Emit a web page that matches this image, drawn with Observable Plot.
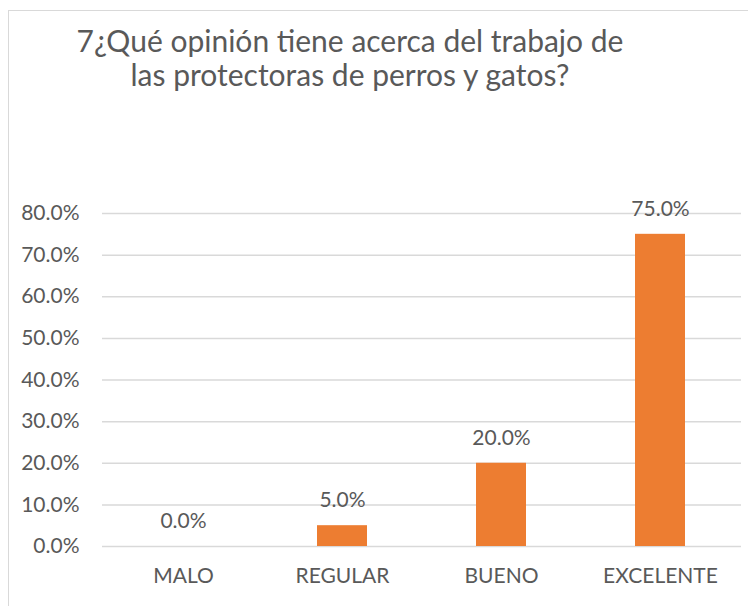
<!DOCTYPE html>
<html>
<head>
<meta charset="utf-8">
<script src="https://cdn.jsdelivr.net/npm/d3@7"></script>
<script src="https://cdn.jsdelivr.net/npm/@observablehq/plot@0.6"></script>
<style>
  html, body { margin: 0; padding: 0; background: #fff; }
  #wrap { position: relative; width: 748px; height: 606px; overflow: hidden; }
  #border { position: absolute; left: 8px; top: 10px; width: 800px; height: 700px; border: 1px solid #d9d9d9; box-sizing: border-box; }
  #title { position: absolute; left: 0; top: 23px; width: 700px; text-align: center; font-family: Lato, sans-serif; font-size: 30px; line-height: 34px; color: #595959; }
  #chart { position: absolute; left: 0; top: 0; }
</style>
</head>
<body>
<div id="wrap">
  <div id="border"></div>
  <div id="title">7¿Qué opinión tiene acerca del trabajo de<br>las protectoras de perros y gatos?</div>
  <div id="chart"></div>
</div>
<script>
const categories = ["MALO", "REGULAR", "BUENO", "EXCELENTE"];
const values = [0.0, 0.05, 0.20, 0.75];
const yTicks = [0, 0.1, 0.2, 0.3, 0.4, 0.5, 0.6, 0.7, 0.8];

const data = categories.map((c, i) => ({cat: c, val: values[i]}));
const pct = d3.format(".1%");

const plot = Plot.plot({
  width: 748,
  height: 606,
  marginLeft: 102,
  marginRight: 7,
  marginTop: 213,
  marginBottom: 60,
  style: {fontFamily: "Lato, sans-serif", fontSize: "21px", color: "#595959", background: "transparent"},
  x: {domain: categories, paddingInner: 0.6875, paddingOuter: 0.34375, label: null},
  y: {domain: [0, 0.8], label: null},
  marks: [
    Plot.gridY(yTicks, {stroke: "#d9d9d9", strokeOpacity: 1, strokeWidth: 1.5}),
    Plot.barY(data, {x: "cat", y: "val", fill: "#ED7D31"}),
    Plot.text(data, {x: "cat", y: "val", text: d => pct(d.val), dy: -25, fill: "#595959", fontSize: 21}),
    Plot.axisY({ticks: yTicks, tickFormat: ".1%", tickSize: 0, tickPadding: 23, label: null, fill: "#595959"}),
    Plot.axisX({tickSize: 0, tickPadding: 22, label: null, fill: "#595959"})
  ]
});
document.getElementById("chart").appendChild(plot);
</script>
</body>
</html>
